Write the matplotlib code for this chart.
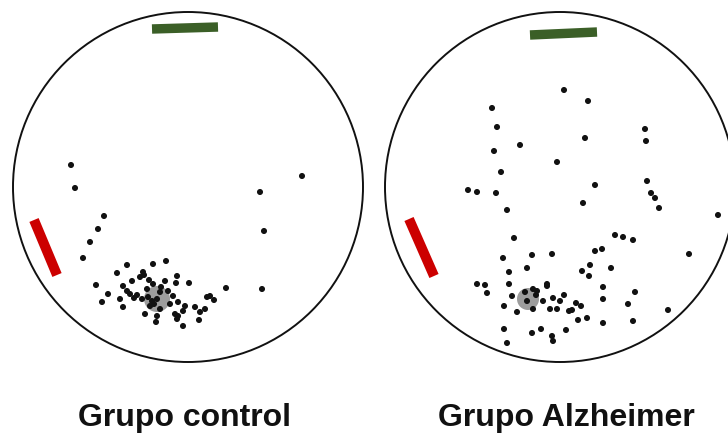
import matplotlib
matplotlib.use("Agg")
import matplotlib.pyplot as plt
from matplotlib.patches import Circle

# ---- data (image-pixel coordinates of the swim-path dots) ----
groups = ["Grupo control", "Grupo Alzheimer"]
pool_cx = [188, 560]
pool_cy = [188, 188]
pool_r = [175, 175]

ctrl_x = [71, 75, 104, 98, 90, 83, 302, 260, 264, 262, 226,
          127, 153, 166, 117, 96, 108, 102, 132, 123, 143, 140, 149, 153, 165,
          177, 176, 189, 127, 130, 120, 134, 142, 123, 148, 152, 157, 160, 154,
          150, 160, 173, 170, 178, 185, 183, 195, 207, 210, 214, 205, 200, 145,
          157, 175, 177, 178, 199, 183, 156, 144, 147, 137, 161, 168]
ctrl_y = [166, 189, 217, 230, 243, 259, 177, 193, 232, 290, 289,
          266, 265, 262, 274, 286, 295, 303, 282, 287, 273, 278, 281, 285, 282,
          277, 284, 284, 292, 295, 300, 299, 300, 308, 298, 302, 300, 293, 305,
          307, 310, 297, 305, 303, 307, 312, 308, 298, 297, 301, 310, 313, 315,
          317, 315, 320, 317, 321, 327, 323, 276, 290, 296, 288, 292]

alz_x = [564, 588, 492, 497, 585, 645, 646, 520, 494, 557, 501, 595, 468, 477,
         496, 647, 651, 655, 659, 583, 507, 718, 514, 615, 623, 633, 689, 595,
         602, 552, 532, 503, 527, 590, 582, 589, 611, 509, 477, 485, 487, 509,
         547, 603, 635, 603, 628, 668, 633, 603, 512, 504, 517, 553, 560, 564,
         550, 557, 569, 572, 576, 581, 578, 587, 504, 532, 541, 566, 552, 553,
         507, 525, 533, 537, 527, 533, 543, 547, 536]
alz_y = [91, 102, 109, 128, 139, 130, 142, 146, 152, 163, 173, 186, 191, 193,
         194, 182, 194, 199, 209, 204, 211, 216, 239, 236, 238, 241, 255, 252,
         250, 255, 256, 259, 269, 266, 272, 277, 269, 273, 285, 286, 294, 285,
         285, 288, 293, 300, 305, 311, 322, 324, 297, 307, 313, 299, 302, 296,
         310, 310, 312, 311, 304, 307, 321, 319, 330, 334, 330, 331, 337, 342,
         344, 293, 290, 292, 302, 310, 302, 287, 296]

blob_x = [157, 528]
blob_y = [300, 300]
blob_r = [13, 11]

# start / platform markers: [x0, y0, x1, y1]
green_bar = [[152, 30, 218, 28], [530, 36, 597, 33]]
red_bar = [[34, 221, 57, 276], [409, 220, 434, 277]]

label_x = [184, 566]
label_y = [426, 426]

W, H = 728, 435
fig = plt.figure(figsize=(W / 100, H / 100), dpi=100)
ax = fig.add_axes([0, 0, 1, 1])
ax.set_xlim(0, W)
ax.set_ylim(H, 0)
ax.axis("off")

for i in range(2):
    ax.add_patch(Circle((pool_cx[i], pool_cy[i]), pool_r[i], fill=False,
                        edgecolor="#111111", linewidth=1.4, zorder=2))
    ax.add_patch(Circle((blob_x[i], blob_y[i]), blob_r[i], facecolor="#8c8c8c",
                        edgecolor="none", alpha=0.85, zorder=3))
    g = green_bar[i]
    ax.plot([g[0], g[2]], [g[1], g[3]], color="#3b5f27", linewidth=6.8,
            solid_capstyle="butt", zorder=4)
    r = red_bar[i]
    ax.plot([r[0], r[2]], [r[1], r[3]], color="#cc0000", linewidth=7.2,
            solid_capstyle="butt", zorder=4)
    ax.text(label_x[i], label_y[i], groups[i], ha="center", va="baseline",
            fontsize=23, fontweight="bold", family="Liberation Sans",
            color="#111111")

ax.scatter(ctrl_x, ctrl_y, s=19, color="#111111", edgecolors="none", zorder=5)
ax.scatter(alz_x, alz_y, s=19, color="#111111", edgecolors="none", zorder=5)

fig.savefig("out.png", dpi=100)
